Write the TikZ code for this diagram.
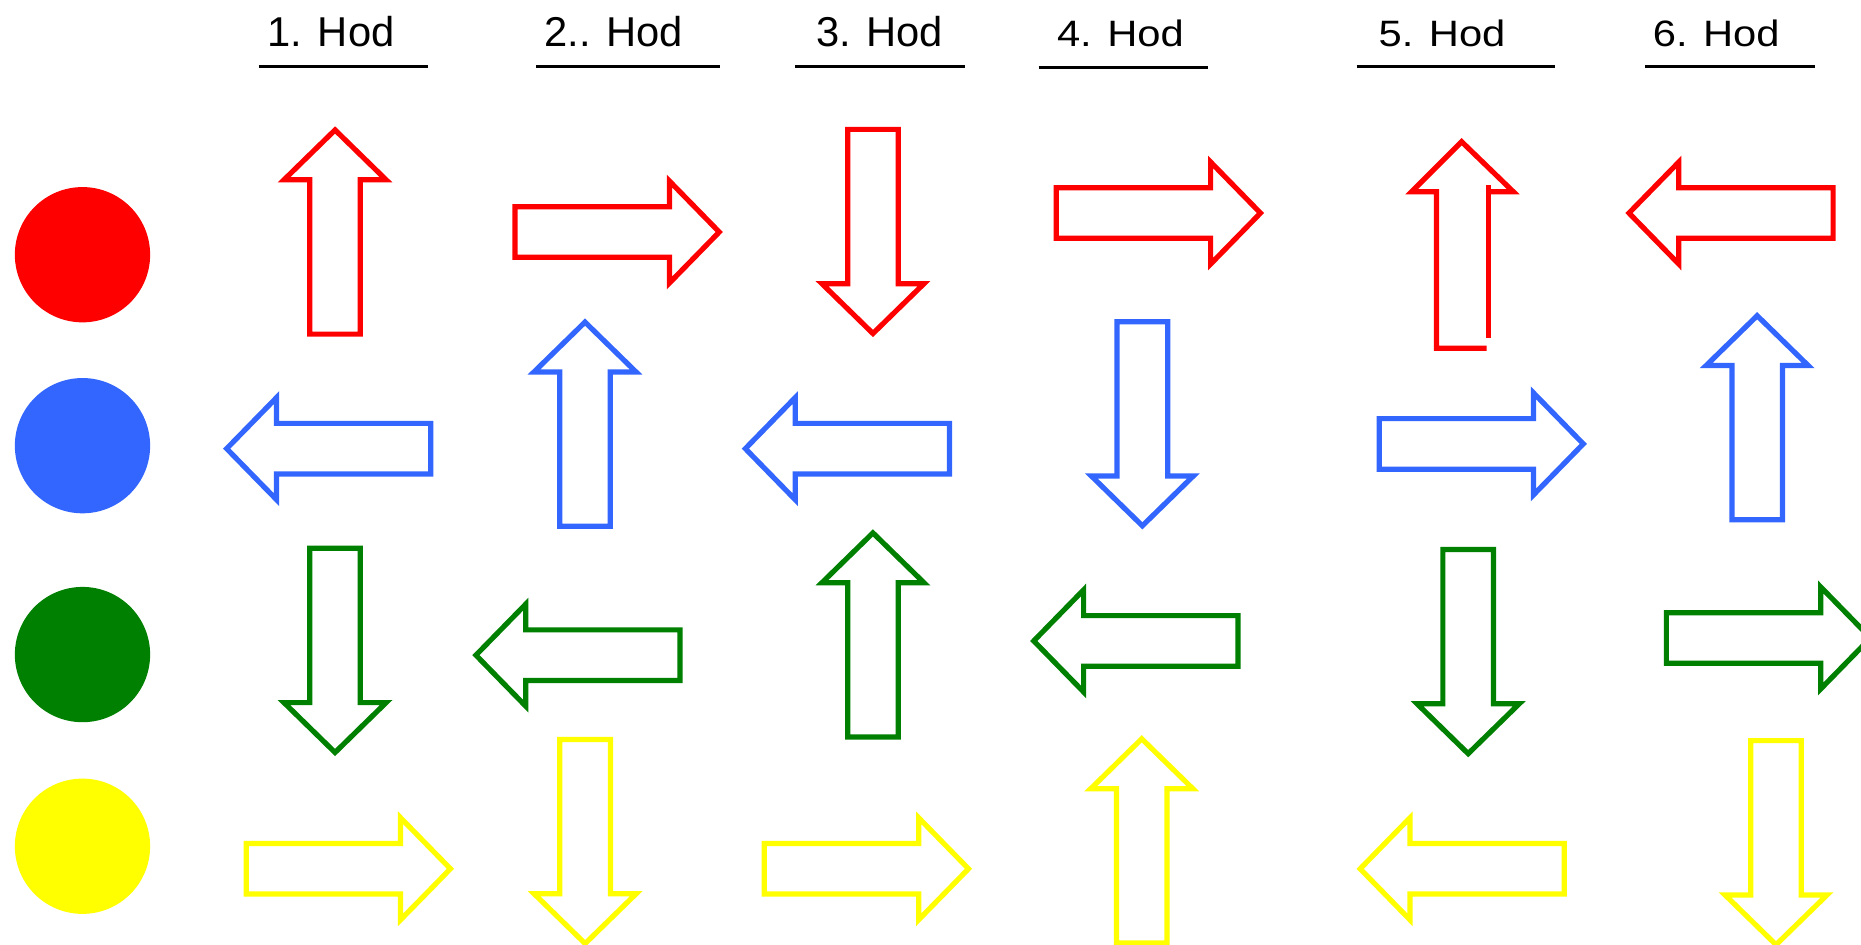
\documentclass[tikz,border=0pt]{standalone}
\usepackage{fontspec}
\setmainfont{Liberation Sans}
\definecolor{cred}{RGB}{255,0,0}
\definecolor{cblue}{RGB}{51,102,255}
\definecolor{cgreen}{RGB}{0,128,0}
\definecolor{cyellow}{RGB}{255,255,0}
\tikzset{
  arr/.pic={\draw[line width=2.5pt, line join=miter]
    (-86,-21.3) -- (44,-21.3) -- (44,-43) -- (86,0) -- (44,43) -- (44,21.3) -- (-86,21.3) -- cycle;},
  hod/.style={anchor=base, font=\fontsize{20}{24}\selectfont, inner sep=0pt},
  uline/.style={line width=1.2pt, black},
  dot/.style={circle, inner sep=0pt, minimum size=2.28cm, draw=none},
  arrline/.style={line width=2.5pt, line join=miter}
}
\begin{document}
\begin{tikzpicture}[x=0.02cm, y=-0.02cm]
\useasboundingbox (0,0) rectangle (1568,796.2);

% headers
\node[hod] (h1) at (279,39.3) {1. Hod};
\node[hod] (h2) at (517,39.3) {2.. Hod};
\node[hod] (h3) at (741,39.3) {3. Hod};
\node[hod] (h4) at (944,39.3) {\scalebox{1}[0.88]{4. Hod}};
\node[hod] (h5) at (1215,39.3) {\scalebox{1}[0.88]{5. Hod}};
\node[hod] (h6) at (1446,39.3) {\scalebox{1}[0.88]{6. Hod}};
\draw[uline] (218,56) -- (361,56);
\draw[uline] (452,56) -- (607,56);
\draw[uline] (670,56) -- (813,56);
\draw[uline] (875,57) -- (1018,57);
\draw[uline] (1143,56) -- (1310,56);
\draw[uline] (1386,56) -- (1529,56);

% circles
\node[dot, fill=cred] (cr) at (69.5,214.6) {};
\node[dot, fill=cblue] (cb) at (69.5,375.5) {};
\node[dot, fill=cgreen] (cg) at (69.5,551.5) {};
\node[dot, fill=cyellow] (cy) at (69.5,713) {};

% red row
\pic[cred, rotate=90] at (282.3,195.5) {arr};
\pic[cred] at (520,195.5) {arr};
\pic[cred, rotate=-90] at (735.5,195) {arr};
\pic[cred] at (976,179.5) {arr};
\draw[cred, arrline] (1252.6,293.5) -- (1210.4,293.5) -- (1210.4,161.5) -- (1189.4,161.5) -- (1231.5,119.4) -- (1275,161.5) -- (1254,161.5);
\draw[cred, arrline] (1254,155.9) -- (1254,285.1);
\pic[cred, rotate=180] at (1458.5,179.5) {arr};

% blue row
\pic[cblue, rotate=180] at (277,378) {arr};
\pic[cblue, rotate=90] at (492.9,357.4) {arr};
\pic[cblue, rotate=180] at (714,378) {arr};
\pic[cblue, rotate=-90] at (962.5,357) {arr};
\pic[cblue] at (1248,374) {arr};
\pic[cblue, rotate=90] at (1480.5,352) {arr};

% green row
\pic[cgreen, rotate=-90] at (282.3,548) {arr};
\pic[cgreen, rotate=180] at (487,552) {arr};
\pic[cgreen, rotate=90] at (735.5,535) {arr};
\pic[cgreen, rotate=180] at (957,540) {arr};
\pic[cgreen, rotate=-90] at (1237,549) {arr};
\pic[cgreen] at (1490,537.5) {arr};

% yellow row
\pic[cyellow] at (293.5,732) {arr};
\pic[cyellow, rotate=-90] at (493,709) {arr};
\pic[cyellow] at (730,732) {arr};
\pic[cyellow, rotate=90] at (962,708.5) {arr};
\pic[cyellow, rotate=180] at (1232,732) {arr};
\pic[cyellow, rotate=-90] at (1496.4,710) {arr};
\end{tikzpicture}
\end{document}
